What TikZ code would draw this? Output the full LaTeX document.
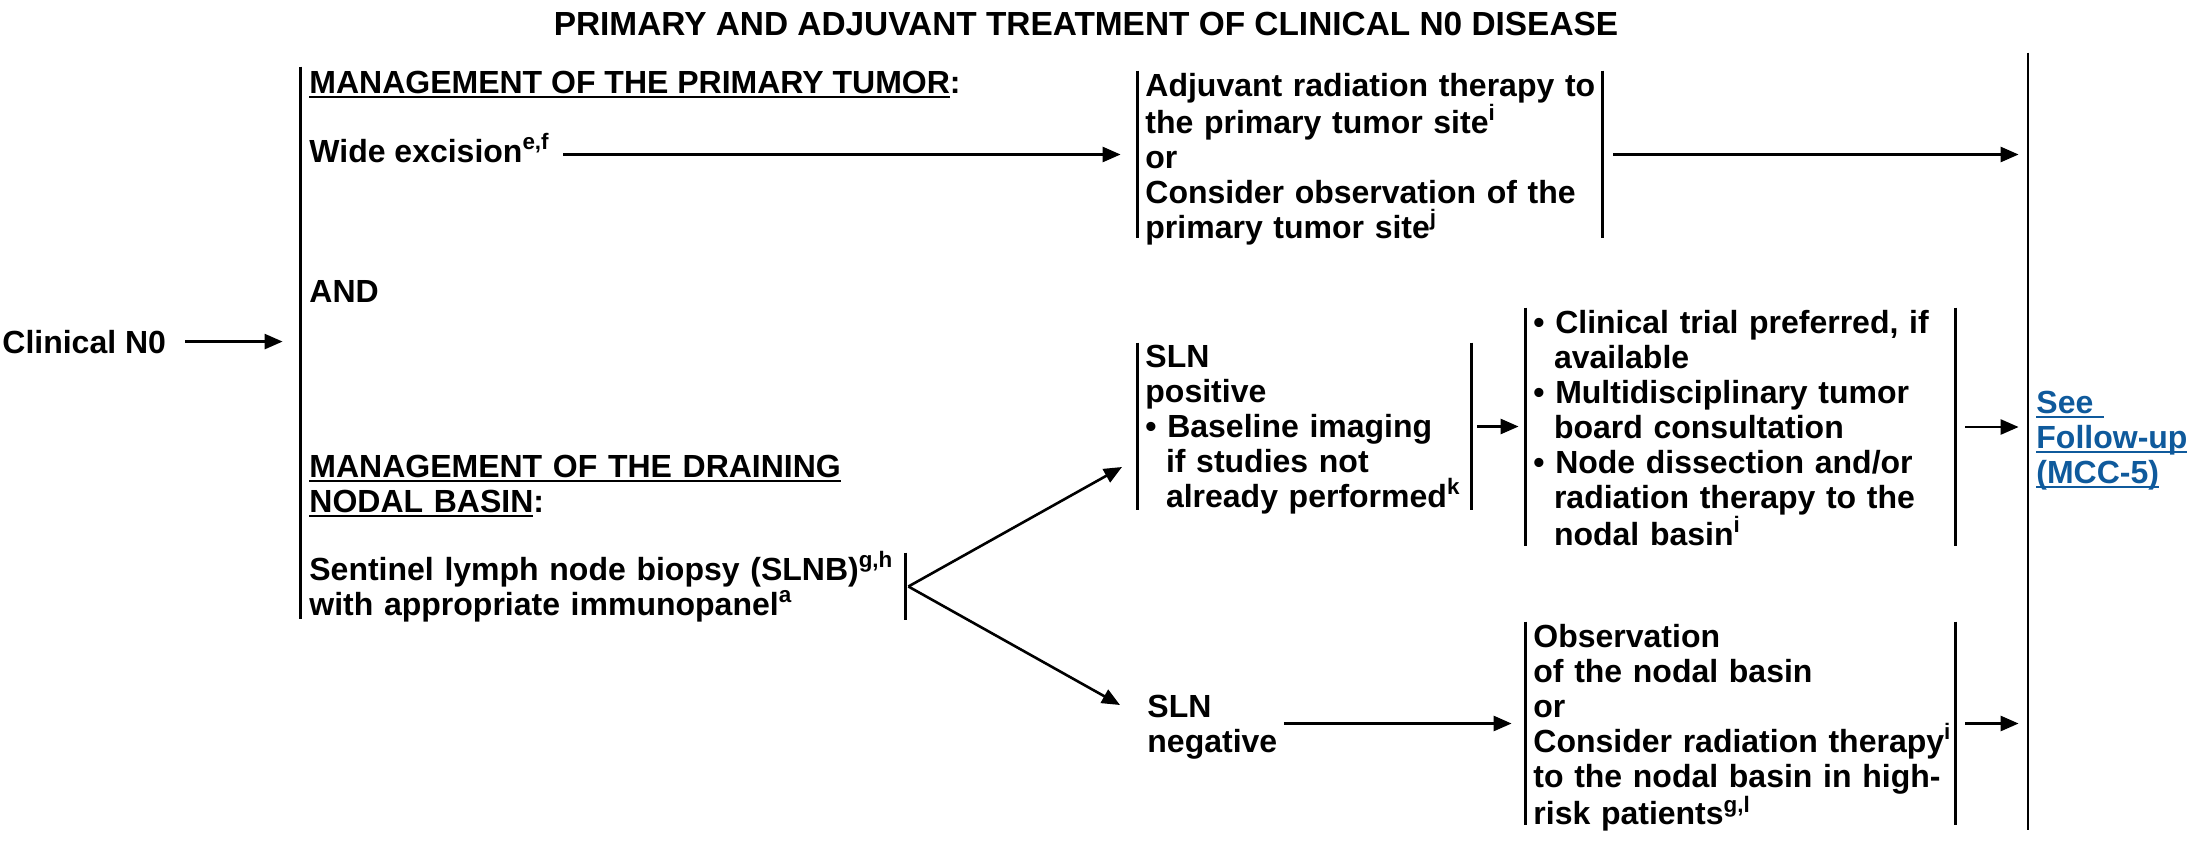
\documentclass[tikz,border=0pt]{standalone}
\usepackage{fontspec}
\setmainfont{Liberation Sans}
\usetikzlibrary{arrows.meta,fit}
\definecolor{linkblue}{HTML}{0F5A9C}
\newcommand\myul[1]{\leavevmode\setbox0=\hbox{#1}\rlap{\rule[-2.6pt]{\wd0}{1pt}}\box0}
\newcommand\ind{\hspace*{10.3pt}}
\tikzset{
  txt/.style={inner sep=0pt, anchor=base west, font=\fontsize{16}{17.5}\selectfont\bfseries},
  tw/.style={txt, text width=330pt, align=left},
  frame/.style={inner sep=0pt, draw=none},
  bar/.style={line width=1.2pt},
  arr/.style={line width=1.3pt, -{Triangle[length=9pt,width=7.5pt]}}
}
\begin{document}
\begin{tikzpicture}[x=0.5pt,y=-0.5pt]
\useasboundingbox (0,0) rectangle (2194,846);

% title
\node[txt, anchor=base, font=\fontsize{16.7}{18}\selectfont\bfseries] (title) at (1086,35) {PRIMARY AND ADJUVANT TREATMENT OF CLINICAL N0 DISEASE};

% frames (bars)
\node[frame, fit={(302,67) (302,619)}] (mainbar) {};
\node[frame, fit={(302,553) (905,620)}] (slnbbox) {};
\node[frame, fit={(1138,71) (1602,238)}] (adjbox) {};
\node[frame, fit={(1138,343) (1471,510)}] (posbox) {};
\node[frame, fit={(1526,308) (1955,546)}] (trialbox) {};
\node[frame, fit={(1526,622) (1955,825)}] (obsbox) {};
\node[frame, fit={(2028,53) (2028,830)}] (bigbar) {};

\draw[bar] (mainbar.north west) -- (mainbar.south west);
\draw[bar] (slnbbox.north east) -- (slnbbox.south east);
\draw[bar] (adjbox.north west) -- (adjbox.south west) (adjbox.north east) -- (adjbox.south east);
\draw[bar] (posbox.north west) -- (posbox.south west) (posbox.north east) -- (posbox.south east);
\draw[bar] (trialbox.north west) -- (trialbox.south west) (trialbox.north east) -- (trialbox.south east);
\draw[bar] (obsbox.north west) -- (obsbox.south west) (obsbox.north east) -- (obsbox.south east);
\draw[bar] (bigbar.north) -- (bigbar.south);

% texts
\node[txt] (cn0) at (2,353) {Clinical N0};
\node[txt] (mpt) at (309,93) {\myul{MANAGEMENT OF THE PRIMARY TUMOR}:};
\node[txt] (wide) at (309,162) {Wide excision\textsuperscript{e,f}};
\node[txt] (and) at (309,302) {AND};
\node[tw] (mdn) at (309,477) {\myul{MANAGEMENT OF THE DRAINING}\\\myul{NODAL BASIN}:};
\node[tw] (slnb) at (309,580) {Sentinel lymph node biopsy (SLNB)\textsuperscript{g,h}\\with appropriate immunopanel\textsuperscript{a}};
\node[tw] (adjtext) at (1145,96) {Adjuvant radiation therapy to\\the primary tumor site\textsuperscript{i}\\or\\Consider observation of the\\primary tumor site\textsuperscript{j}};
\node[tw] (postext) at (1145,367) {SLN\\positive\\• Baseline imaging\\\ind if studies not\\\ind already performed\textsuperscript{k}};
\node[tw] (trialtext) at (1533,333) {• Clinical trial preferred, if\\\ind available\\• Multidisciplinary tumor\\\ind board consultation\\• Node dissection and/or\\\ind radiation therapy to the\\\ind nodal basin\textsuperscript{i}};
\node[txt, text width=68pt, align=left] (negtext) at (1147,717) {SLN\\negative};
\node[tw] (obstext) at (1533,647) {Observation\\of the nodal basin\\or\\Consider radiation therapy\textsuperscript{i}\\to the nodal basin in high-\\risk patients\textsuperscript{g,l}};
\node[txt, text width=80pt, align=left, text=linkblue] (link) at (2036,413) {\myul{See\ }\\\myul{Follow-up}\\\myul{(MCC-5)}};

% free ends of the fork
\coordinate (postip) at (1122,467);
\coordinate (negtip) at (1120,705);

% connectors
\draw[arr, shorten <=9.5pt, shorten >=9pt] (cn0.east) -- (cn0.east -| mainbar.west);
\draw[arr, shorten <=6.5pt, shorten >=8.5pt] (wide.east |- adjbox.west) -- (adjbox.west);
\draw[arr, shorten <=5.5pt, shorten >=4pt] (adjbox.east) -- (adjbox.east -| bigbar.west);
\draw[arr] ([xshift=1.5pt]slnbbox.east) -- (postip);
\draw[arr] ([xshift=1.5pt]slnbbox.east) -- (negtip);
\draw[arr, shorten <=3pt, shorten >=3.5pt] (posbox.east) -- (posbox.east -| trialbox.west);
\draw[arr, shorten <=5pt, shorten >=4pt] (trialbox.east) -- (trialbox.east -| bigbar.west);
\draw[arr, shorten >=7pt] (negtext.east |- obsbox.west) -- (obsbox.west);
\draw[arr, shorten <=5pt, shorten >=4pt] (obsbox.east) -- (obsbox.east -| bigbar.west);
\end{tikzpicture}
\end{document}
